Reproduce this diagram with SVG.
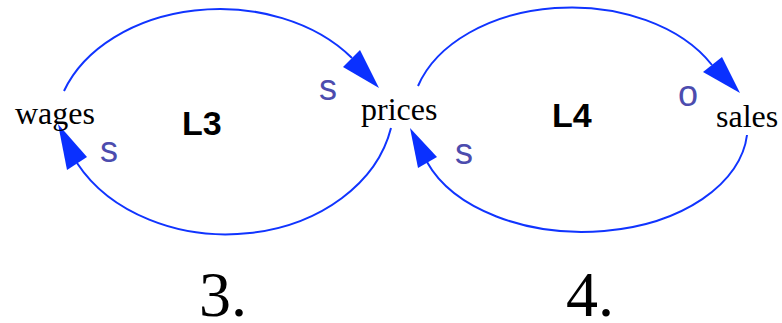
<svg xmlns="http://www.w3.org/2000/svg" width="782" height="323" viewBox="0 0 782 323">
<style>
.arc{fill:none;stroke:#1034ff;stroke-width:2}
.head{fill:#0a30ff;stroke:none}
.var{font-family:"Liberation Serif",serif;font-size:32px;fill:#000}
.pol{font-family:"Liberation Sans",sans-serif;font-size:36px;fill:#4c4cae}
.loop{font-family:"Liberation Sans",sans-serif;font-size:34px;font-weight:bold;fill:#000}
.num{font-family:"Liberation Serif",serif;font-size:64px;fill:#000}
</style>
<rect width="782" height="323" fill="#fff"/>
<g id="connectors">
  <path class="arc" d="M64,91 A165,122 0 0,1 352,58"/>
  <polygon class="head" points="379,88 343,67 360,50"/>
  <path class="arc" d="M391,128 A168,132 0 0,1 77,163"/>
  <polygon class="head" points="58,124 67,170 87,157"/>
  <path class="arc" d="M418,86 A160,110 0 0,1 712,65"/>
  <polygon class="head" points="740,93 703,72 722,57"/>
  <path class="arc" d="M747,135 A165,105 0 0,1 427,162"/>
  <polygon class="head" points="410,128 418,168 437,157"/>
  <text class="pol" x="319" y="100">s</text>
  <text class="pol" x="100" y="162">s</text>
  <text class="pol" x="455" y="164">s</text>
  <text class="pol" x="678" y="106">o</text>
</g>
<g id="wages"><text class="var" x="15" y="124">wages</text></g>
<g id="prices"><text class="var" x="361" y="120">prices</text></g>
<g id="sales"><text class="var" x="716" y="127">sales</text></g>
<g id="L3"><text class="loop" x="182" y="135">L3</text></g>
<g id="L4"><text class="loop" x="552" y="127">L4</text></g>
<g id="label3"><text class="num" x="199" y="316">3.</text></g>
<g id="label4"><text class="num" x="566" y="316">4.</text></g>
</svg>
